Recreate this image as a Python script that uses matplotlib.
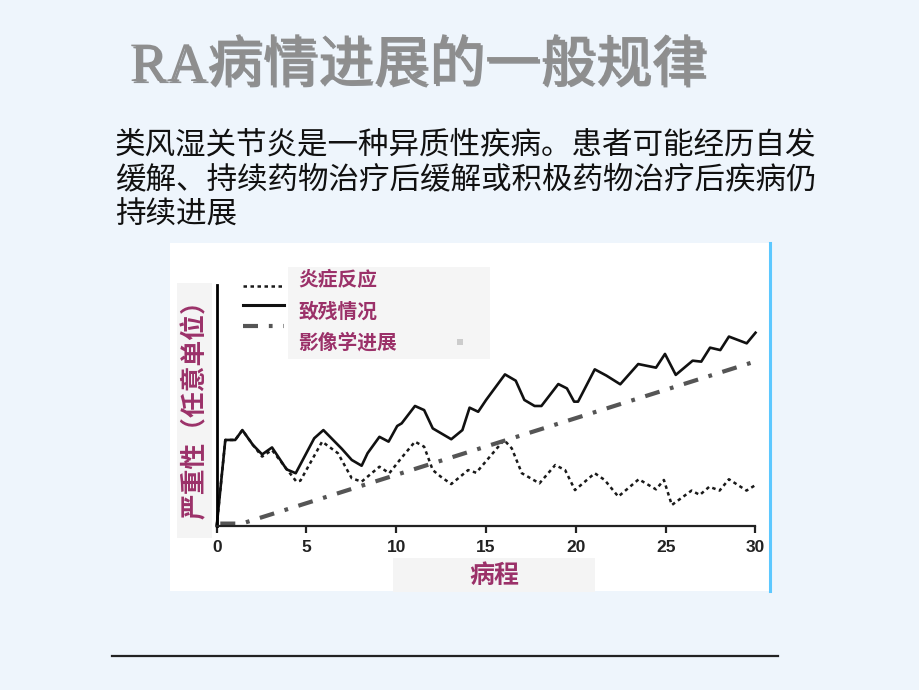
import matplotlib.pyplot as plt
import matplotlib.patheffects as pe
from matplotlib.patches import Rectangle
from matplotlib.lines import Line2D

W, H = 920, 690

title = "RA病情进展的一般规律"
body_lines = [
    "类风湿关节炎是一种异质性疾病。患者可能经历自发",
    "缓解、持续药物治疗后缓解或积极药物治疗后疾病仍",
    "持续进展",
]
legend_labels = ["炎症反应", "致残情况", "影像学进展"]
x_label = "病程"
y_label = "严重性（任意单位）"
x_ticks = [0, 5, 10, 15, 20, 25, 30]

# 致残情况 (solid)
disab_x = [0, 0.48, 1.03, 1.43, 2.02, 2.53, 3.08, 3.89, 4.4, 5.43, 5.94, 6.97, 7.52,
           8.07, 8.4, 9.06, 9.57, 10.05, 10.3, 11.04, 11.55, 12.03, 13.06, 13.68, 14.08,
           14.56, 15.0, 16.05, 16.65, 17.13, 17.7, 18.08, 19.02, 19.5, 19.9, 20.12, 21.05,
           21.7, 22.47, 23.47, 24.46, 24.96, 25.56, 26.5, 26.98, 27.47, 28.04, 28.52,
           29.51, 30.0]
disab_y = [0, 35.7, 35.7, 39.8, 33.6, 29.7, 32.6, 23.5, 21.9, 36.4, 39.8, 32.0, 27.4,
           25.0, 30.2, 37.0, 35.0, 41.5, 42.6, 49.8, 48.1, 40.5, 36.0, 39.8, 49.1,
           47.4, 52.3, 62.9, 60.3, 52.3, 49.8, 49.8, 58.9, 57.1, 51.6, 51.6, 65.0,
           62.4, 58.8, 67.2, 65.7, 71.4, 62.7, 68.6, 68.2, 74.0, 73.0, 78.6,
           75.8, 80.2]

# 炎症反应 (dotted)
infl_x = [0, 0.48, 1.03, 1.43, 2.02, 2.53, 3.08, 4.44, 4.66, 5.87, 6.75, 7.52, 8.07,
          9.06, 9.61, 10.27, 11.04, 11.55, 12.03, 12.47, 13.06, 14.0, 14.45, 16.0, 16.43,
          16.99, 17.97, 18.85, 19.4, 19.95, 21.05, 21.6, 22.36, 23.5, 24.46, 24.9, 25.34,
          26.44, 26.9, 27.43, 28.0, 28.52, 29.5, 30.0]
infl_y = [0, 35.7, 35.7, 39.8, 33.6, 28.8, 31.5, 18.4, 18.8, 35.0, 30.2, 19.8, 18.4,
          24.6, 21.9, 28.1, 35.0, 32.9, 23.2, 20.5, 17.4, 23.2, 22.1, 35.7, 32.2,
          21.9, 17.7, 25.3, 23.2, 14.9, 21.9, 19.1, 12.2, 19.4, 15.2, 19.1, 8.7,
          14.7, 12.9, 16.3, 14.7, 19.4, 14.7, 17.0]

# 影像学进展 (dash-dot)
xray_x = [0.2, 1.4, 30]
xray_y = [1.0, 1.0, 68.3]

purple = "#9B3169"
bg = "#EEF5FC"
cjk = ["Noto Sans CJK SC", "DejaVu Sans"]


def px(x, y):
    return x / W, 1 - y / H


fig = plt.figure(figsize=(W / 100, H / 100), dpi=100, facecolor=bg)

# white chart panel and its blue right edge
fig.patches.append(Rectangle(px(170, 591), 600 / W, 348 / H, transform=fig.transFigure,
                             facecolor="white", edgecolor="none", zorder=-2))
fig.lines.append(Line2D([770 / W, 770 / W], [1 - 243 / H, 1 - 591 / H],
                        transform=fig.transFigure, color="#5CC8FF", lw=2.2))

# label backgrounds
fig.patches.append(Rectangle(px(177, 538), 35 / W, 255 / H, transform=fig.transFigure,
                             facecolor="#F4F4F4", edgecolor="none", zorder=-1))
fig.patches.append(Rectangle(px(393, 592), 202 / W, 34 / H, transform=fig.transFigure,
                             facecolor="#F4F4F4", edgecolor="none", zorder=-1))

x0, x1 = 216.7, 755.5
y0, y1 = 526, 285
ax = fig.add_axes([x0 / W, 1 - y0 / H, (x1 - x0) / W, (y0 - y1) / H])
ax.set_zorder(1)
ax.set_facecolor("none")
ax.set_xlim(0, 30)
ax.set_ylim(0, 100)

dot_style = (0, (1.4, 1.4))
dashdot_style = (0, (3.6, 2.6, 0.9, 2.6))

ax.plot(infl_x, infl_y, color="#1a1a1a", lw=1.8, linestyle=dot_style, clip_on=False)
ax.plot(disab_x, disab_y, color="#111111", lw=1.9, clip_on=False)
ax.plot(xray_x, xray_y, color="#555555", lw=3.0, linestyle=dashdot_style, clip_on=False)

for s in ["top", "right"]:
    ax.spines[s].set_visible(False)
ax.spines["left"].set_linewidth(2.0)
ax.spines["bottom"].set_linewidth(1.6)
ax.spines["bottom"].set_color("#222222")
ax.set_yticks([])
ax.set_xticks(x_ticks)
ax.tick_params(axis="x", direction="out", length=5, width=1.6, pad=5,
               labelsize=12.5, colors="#222222")
for lab in ax.get_xticklabels():
    lab.set_fontweight("bold")
    lab.set_family(["Liberation Sans", "DejaVu Sans"])

# legend
fig.patches.append(Rectangle(px(288, 359), 202 / W, 92 / H, transform=fig.transFigure,
                             facecolor="#F5F5F5", edgecolor="none", zorder=2))
fig.patches.append(Rectangle(px(457, 345), 6 / W, 6 / H, transform=fig.transFigure,
                             facecolor="#CCCCCC", edgecolor="none", zorder=3))
styles = [
    dict(color="#1a1a1a", lw=1.8, linestyle=dot_style),
    dict(color="#111111", lw=2.2),
    dict(color="#555555", lw=3.0, linestyle=dashdot_style),
]
for i, (lab, st) in enumerate(zip(legend_labels, styles)):
    ly = [286, 305, 326][i]
    fig.lines.append(Line2D([243 / W, 284 / W], [1 - ly / H] * 2,
                            transform=fig.transFigure, **st))
    ty = [280, 312, 343][i]
    fig.text(298 / W, 1 - ty / H, lab, family=cjk, fontsize=14.2, fontweight="bold",
             color=purple, va="center", ha="left", zorder=4)

fig.text(*px(195, 403), y_label, family=cjk, fontsize=18.5, fontweight="bold",
         color=purple, rotation=90, ha="center", va="center")
fig.text(*px(494, 576), x_label, family=cjk, fontsize=18, fontweight="bold",
         color=purple, ha="center", va="center")

# slide title and text
fig.text(*px(418, 67), title, family=["Liberation Serif", "Noto Sans CJK SC"],
         fontsize=40, color="#8E8E8E", ha="center", va="center",
         path_effects=[pe.withSimplePatchShadow(offset=(1.5, -1.5), shadow_rgbFace="#666666",
                                                alpha=0.7)])
for i, line in enumerate(body_lines):
    fig.text(115 / W, 1 - (145 + 35 * i) / H, line, family=cjk, fontsize=22,
             color="#111111", ha="left", va="center")

fig.lines.append(Line2D([112 / W, 778 / W], [1 - 656 / H] * 2,
                        transform=fig.transFigure, color="#222222", lw=1.6))

fig.savefig("out.png", dpi=100, facecolor=bg)
